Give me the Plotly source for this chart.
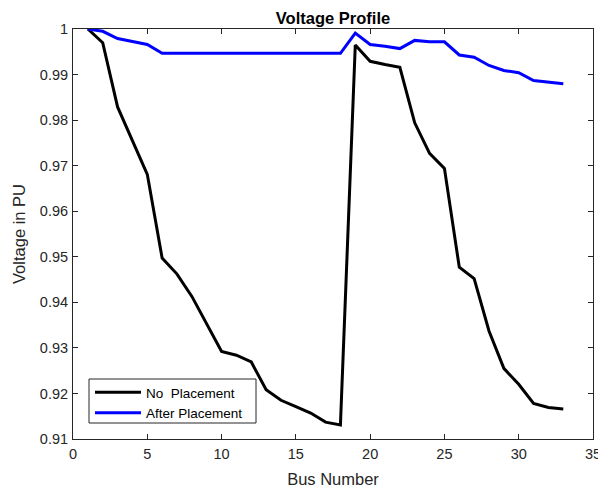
import plotly.graph_objects as go

bus = list(range(1, 34))
v_no_placement = [1.0000, 0.9970, 0.9829, 0.9755, 0.9681, 0.9497, 0.9462, 0.9413, 0.9351,
                  0.9292, 0.9284, 0.9269, 0.9208, 0.9185, 0.9171, 0.9157, 0.9137, 0.9131,
                  0.9965, 0.9929, 0.9922, 0.9916, 0.9794, 0.9727, 0.9694, 0.9477, 0.9452,
                  0.9337, 0.9255, 0.9220, 0.9178, 0.9169, 0.9166]
v_after_placement = [1.0000, 0.9995, 0.9979, 0.9973, 0.9966, 0.99465, 0.99465, 0.99465, 0.99465,
                     0.99465, 0.99465, 0.99465, 0.99465, 0.99465, 0.99465, 0.99465, 0.99465, 0.99465,
                     0.9991, 0.9966, 0.9962, 0.9957, 0.9975, 0.9972, 0.9972, 0.9943, 0.9938,
                     0.9920, 0.9909, 0.9904, 0.9887, 0.9883, 0.9880]
x_ticks = [0, 5, 10, 15, 20, 25, 30, 35]
y_ticks = [0.91, 0.92, 0.93, 0.94, 0.95, 0.96, 0.97, 0.98, 0.99, 1.0]
y_tick_labels = ["0.91", "0.92", "0.93", "0.94", "0.95", "0.96", "0.97", "0.98", "0.99", "1"]

font = "Liberation Sans, Arial, sans-serif"
axcol = "#262626"

# page has an 8px body margin; figure is sized so the plot area lands where the reference has it
OFF = 8
W, H = 598, 482
PL, PR, PT, PB = 73, 593, 29, 439          # desired plot-area edges in page pixels
L, R, T, B = PL - OFF, OFF + W - PR, PT - OFF, OFF + H - PB
pw, ph = W - L - R, H - T - B

def px_x(p):
    return (p - PL) / pw

def px_y(p):
    return (PB - p) / ph

fig = go.Figure()
fig.add_trace(go.Scatter(x=bus, y=v_no_placement, mode="lines", name="No  Placement",
                         line=dict(color="black", width=3)))
fig.add_trace(go.Scatter(x=bus, y=v_after_placement, mode="lines", name="After Placement",
                         line=dict(color="#0000ff", width=3)))

axis_common = dict(showline=True, linecolor=axcol, linewidth=1, mirror="ticks",
                   ticks="inside", ticklen=5, tickcolor=axcol, showgrid=False, zeroline=False,
                   automargin=False,
                   tickfont=dict(family=font, size=14.5, color=axcol))

fig.update_xaxes(range=[0, 35], tickvals=x_ticks, ticklabelstandoff=2,
                 title=dict(text="Bus Number", font=dict(family=font, size=16.5, color=axcol), standoff=12),
                 **axis_common)
fig.update_yaxes(range=[0.91, 1.0], tickvals=y_ticks, ticktext=y_tick_labels, ticklabelstandoff=1,
                 title=dict(text="Voltage in PU", font=dict(family=font, size=16.5, color=axcol), standoff=10),
                 **axis_common)

# legend frame
fig.add_shape(type="rect", xref="paper", yref="paper",
              x0=px_x(89), x1=px_x(256), y0=px_y(423), y1=px_y(379),
              line=dict(color=axcol, width=1), fillcolor="white", layer="above")

fig.update_layout(
    width=W, height=H,
    margin=dict(l=L, r=R, t=T, b=B),
    paper_bgcolor="white", plot_bgcolor="white",
    title=dict(text="<b>Voltage Profile</b>", x=0.5, xanchor="center", xref="paper",
               y=1 - (18 - OFF) / H, yanchor="middle",
               font=dict(family=font, size=16.5, color="black")),
    legend=dict(x=px_x(90), y=px_y(377), xanchor="left", yanchor="top",
                bgcolor="rgba(0,0,0,0)", borderwidth=0,
                font=dict(family=font, size=13.5, color="black"),
                itemwidth=46, tracegroupgap=0),
    showlegend=True,
)

fig.write_html("out.html")
